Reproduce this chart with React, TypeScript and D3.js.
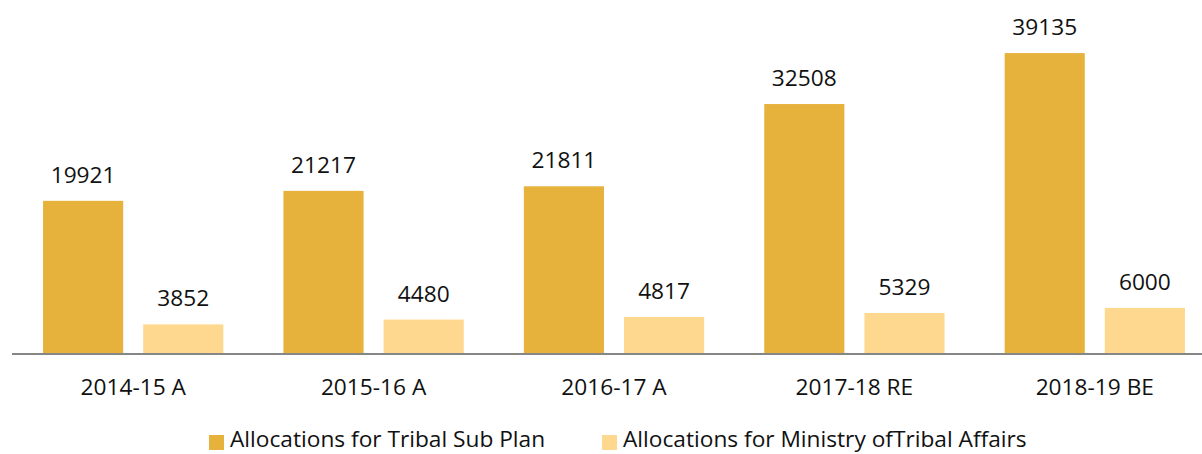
import React from "react";
import * as d3 from "d3";

const categories = ["2014-15 A", "2015-16 A", "2016-17 A", "2017-18 RE", "2018-19 BE"];
const seriesNames = ["Allocations for Tribal Sub Plan", "Allocations for Ministry ofTribal Affairs"];
const tribalSubPlan = [19921, 21217, 21811, 32508, 39135];
const ministryTribalAffairs = [3852, 4480, 4817, 5329, 6000];
const colors = ["#E6B23B", "#FED88F"];

const W = 1202;
const H = 454;
const FONT = "'Open Sans', 'Noto Sans', sans-serif";
const FS = 22.7;

export default function App() {
  const x0 = d3.scaleBand<string>().domain(categories).range([13, 1215]).paddingInner(0).paddingOuter(0);
  const x1 = d3.scaleBand<string>().domain(seriesNames).range([0, x0.bandwidth()]).paddingInner(0.2).paddingOuter(0.3);
  const y = d3.scaleLinear().domain([0, 45000]).range([354, 8]);
  const seriesData = [tribalSubPlan, ministryTribalAffairs];
  const legendPos = [209, 602];

  return (
    <svg width={W} height={H} style={{ position: "absolute", left: 0, top: 0, background: "#fff" }} fontFamily={FONT}>
      {categories.map((c, i) => (
        <g key={c} transform={`translate(${x0(c)},0)`}>
          {seriesNames.map((s, j) => {
            const v = seriesData[j][i];
            const bx = x1(s)!;
            return (
              <g key={s}>
                <rect x={bx} y={y(v)} width={x1.bandwidth()} height={y(0) - y(v)} fill={colors[j]} />
                <text x={bx + x1.bandwidth() / 2} y={y(v) - 18} textAnchor="middle" fontSize={FS} fill="#111">
                  {v}
                </text>
              </g>
            );
          })}
          <text x={x0.bandwidth() / 2} y={395} textAnchor="middle" fontSize={FS} fill="#111">
            {c}
          </text>
        </g>
      ))}
      <line x1={12} x2={1202} y1={y(0)} y2={y(0)} stroke="#868686" strokeWidth={2} />
      {seriesNames.map((s, j) => (
        <g key={s}>
          <rect x={legendPos[j]} y={435} width={15} height={15} fill={colors[j]} />
          <text x={legendPos[j] + 21} y={447} fontSize={FS} fill="#111">
            {s}
          </text>
        </g>
      ))}
    </svg>
  );
}
